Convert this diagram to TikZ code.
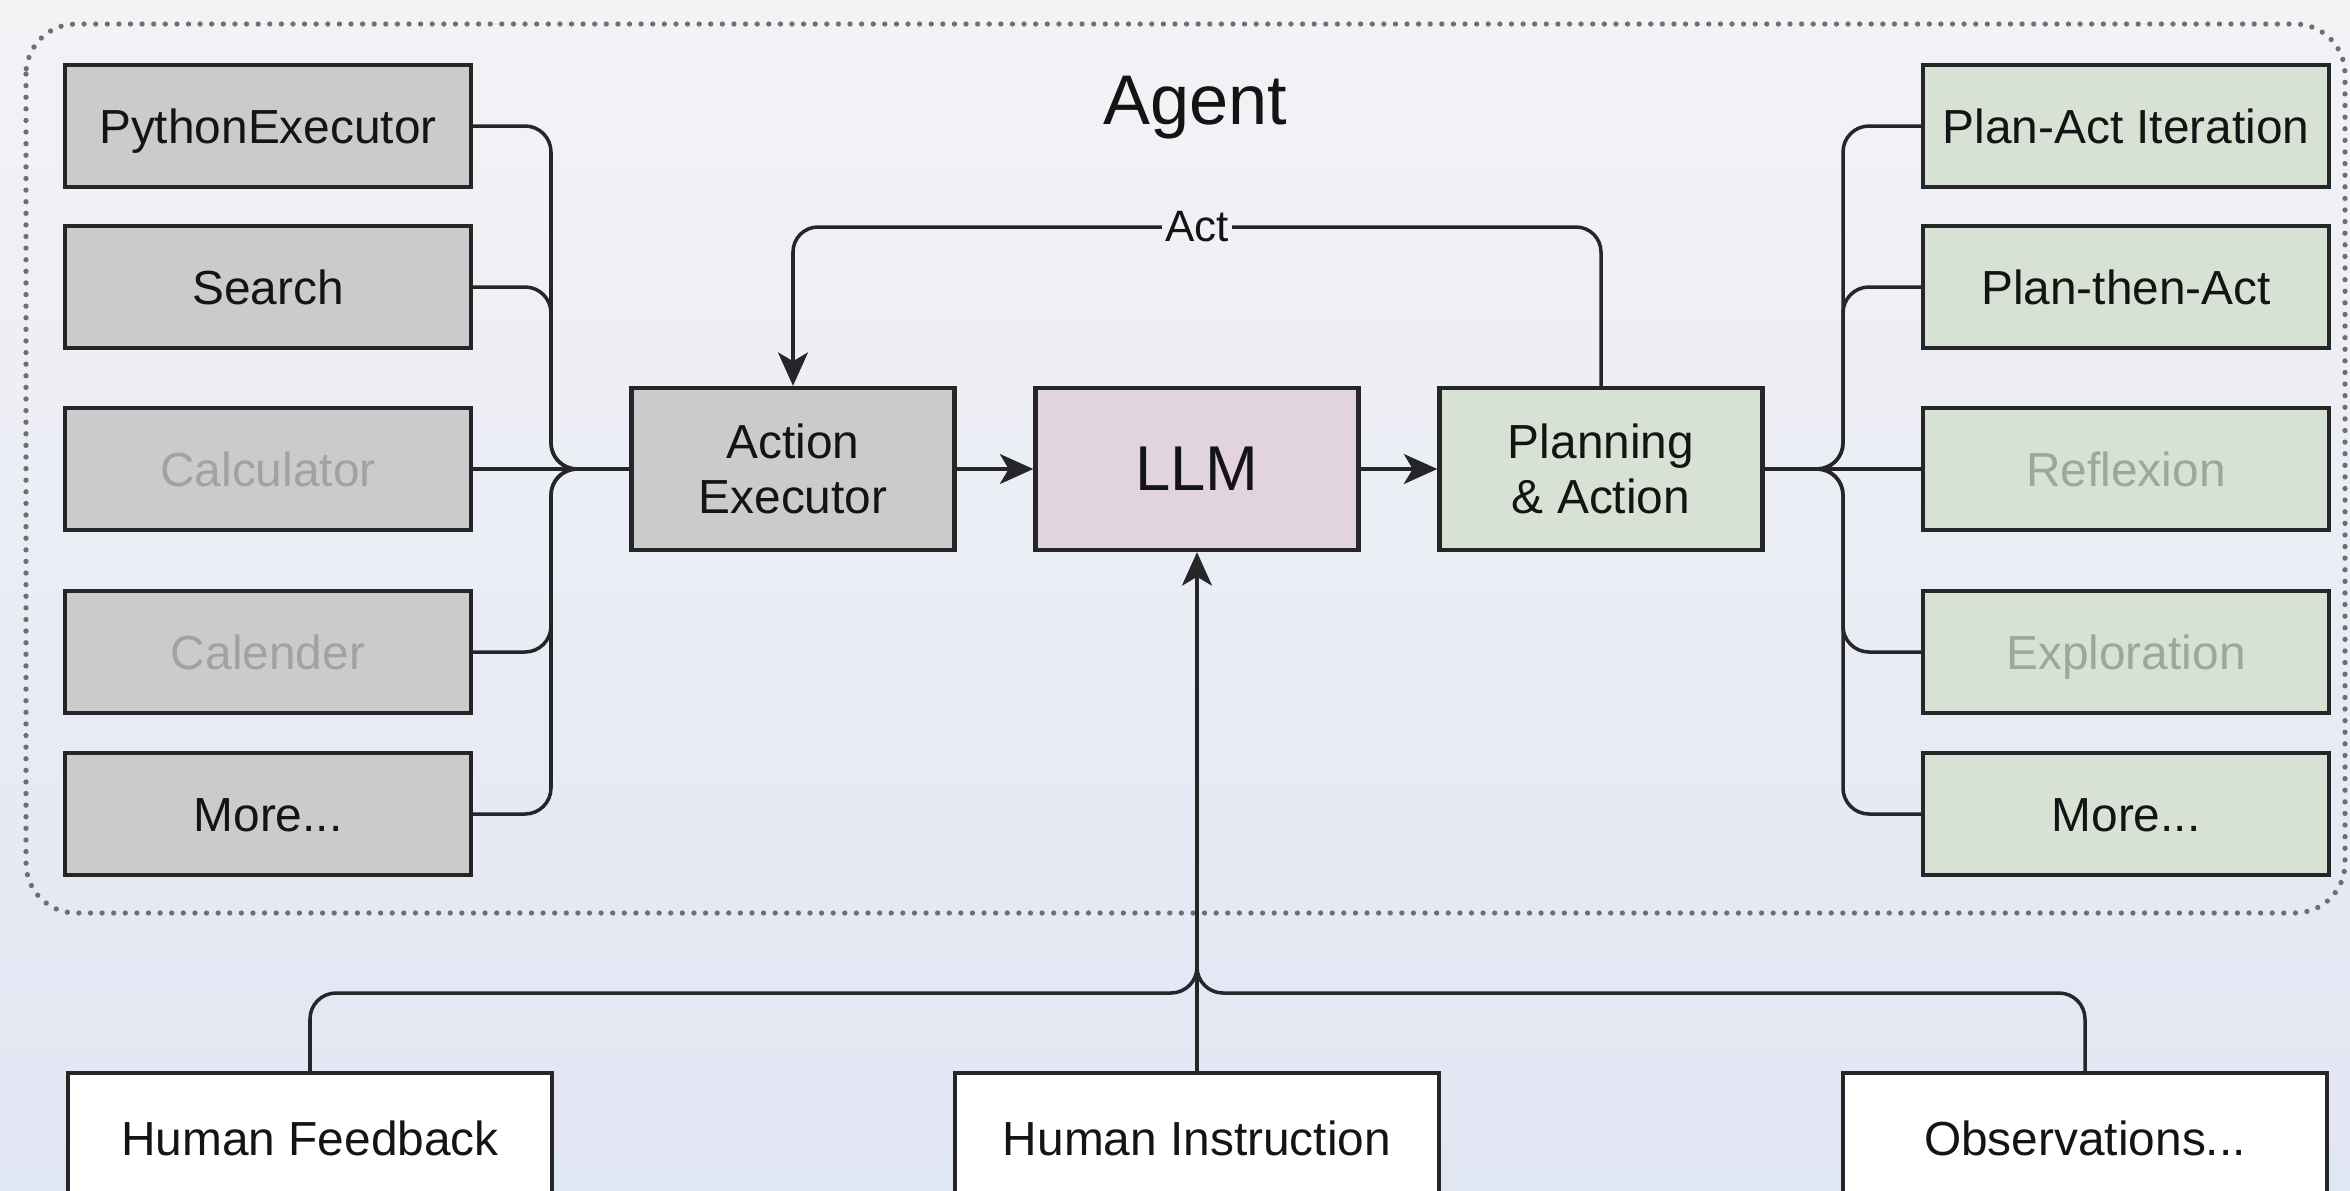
\documentclass[tikz,border=0pt]{standalone}
\usepackage{fontspec}
\setmainfont{Liberation Sans}
\usetikzlibrary{arrows.meta}
\definecolor{bgtop}{HTML}{F3F3F6}
\definecolor{bgbot}{HTML}{E1E6F3}
\definecolor{actbg}{HTML}{F1F1F5}
\definecolor{grayfill}{HTML}{CBCBCB}
\definecolor{llmfill}{HTML}{E2D4DE}
\definecolor{greenfill}{HTML}{D7E2D4}
\definecolor{edge}{HTML}{262628}
\definecolor{txt}{HTML}{141414}
\definecolor{fadegray}{HTML}{A2A2A2}
\definecolor{fadegreen}{HTML}{9CA89A}
\definecolor{dotc}{HTML}{6E6E74}
\begin{document}
\begin{tikzpicture}[x=0.01cm,y=-0.01cm,
  box/.style={draw=edge, line width=1.2pt, text=txt, font=\fontsize{13.6}{15.7}\selectfont, inner sep=0pt, align=center},
  oneline/.style={text height=9.8pt, text depth=0pt},
  toolbox/.style={box, oneline, fill=grayfill, minimum width=4.06cm, minimum height=1.22cm},
  planbox/.style={box, oneline, fill=greenfill, minimum width=4.06cm, minimum height=1.22cm},
  corebox/.style={box, minimum width=3.23cm, minimum height=1.62cm},
  inbox/.style={box, oneline, fill=white, minimum width=4.84cm, minimum height=1.3cm},
  conn/.style={draw=edge, line width=1pt},
  bus/.style={conn, rounded corners=0.26cm},
  arr/.style={-{Stealth[length=9.5pt,width=8.5pt,inset=2.5pt]}},
]
\useasboundingbox (0,0) rectangle (2350,1190);
\fill[top color=bgtop, bottom color=bgbot] (0,0) rectangle (2350,1190);

% agent container
\draw[dotc, line width=1.5pt, line cap=round, dash pattern=on 0pt off 3.3pt, rounded corners=0.5cm] (26,24) rectangle (2345,913);
\node[font=\fontsize{20}{24}\selectfont, text=txt] (title) at (1195,108) {Agent};

% tools (left)
\node[toolbox] (py) at (268,126) {PythonExecutor};
\node[toolbox] (se) at (268,287) {Search};
\node[toolbox, text=fadegray] (ca) at (268,469) {Calculator};
\node[toolbox, text=fadegray] (cl) at (268,652) {Calender};
\node[toolbox] (mo) at (268,814) {More...};

% core
\node[corebox, fill=grayfill] (ae) at (793,469) {Action\\Executor};
\node[corebox, fill=llmfill, font=\fontsize{18}{21}\selectfont] (llm) at (1197,469) {LLM};
\node[corebox, fill=greenfill] (pa) at (1601,469) {Planning\\\& Action};

% planning (right)
\node[planbox] (pai) at (2126,126) {Plan-Act Iteration};
\node[planbox] (pta) at (2126,287) {Plan-then-Act};
\node[planbox, text=fadegreen] (rf) at (2126,469) {Reflexion};
\node[planbox, text=fadegreen] (ex) at (2126,652) {Exploration};
\node[planbox] (mr) at (2126,814) {More...};

% inputs (bottom)
\node[inbox] (hf) at (310,1138) {Human Feedback};
\node[inbox] (hi) at (1197,1138) {Human Instruction};
\node[inbox] (ob) at (2085,1138) {Observations...};

% junctions
\coordinate (jl) at (578,469);
\coordinate (jr) at (1816,469);
\coordinate (jb) at (1197,962);

% left bus
\draw[bus] (py.east) -| (551,469) -- (jl);
\draw[bus] (se.east) -| (551,469) -- (jl);
\draw[conn] (ca.east) -- (jl);
\draw[bus] (cl.east) -| (551,469) -- (jl);
\draw[bus] (mo.east) -| (551,469) -- (jl);
\draw[conn] (jl) -- (ae.west);

% right bus
\draw[conn] (pa.east) -- (jr);
\draw[bus] (jr) -- (1843,469) |- (pai.west);
\draw[bus] (jr) -- (1843,469) |- (pta.west);
\draw[conn] (jr) -- (rf.west);
\draw[bus] (jr) -- (1843,469) |- (ex.west);
\draw[bus] (jr) -- (1843,469) |- (mr.west);

% core arrows
\draw[conn, arr] (ae.east) -- (llm.west);
\draw[conn, arr] (llm.east) -- (pa.west);
\coordinate (actc) at (1197,227);
\draw[conn, arr, rounded corners=0.25cm] (pa.north) |- (actc) -| (ae.north);
\node[fill=actbg, inner sep=1pt, text=txt, font=\fontsize{12.5}{14}\selectfont] (actlabel) at (actc) {Act};

% bottom bus
\draw[conn, arr] (hi.north) -- (llm.south);
\draw[bus] (hf.north) |- (1197,993) -- (jb);
\draw[bus] (ob.north) |- (1197,993) -- (jb);
\end{tikzpicture}
\end{document}
